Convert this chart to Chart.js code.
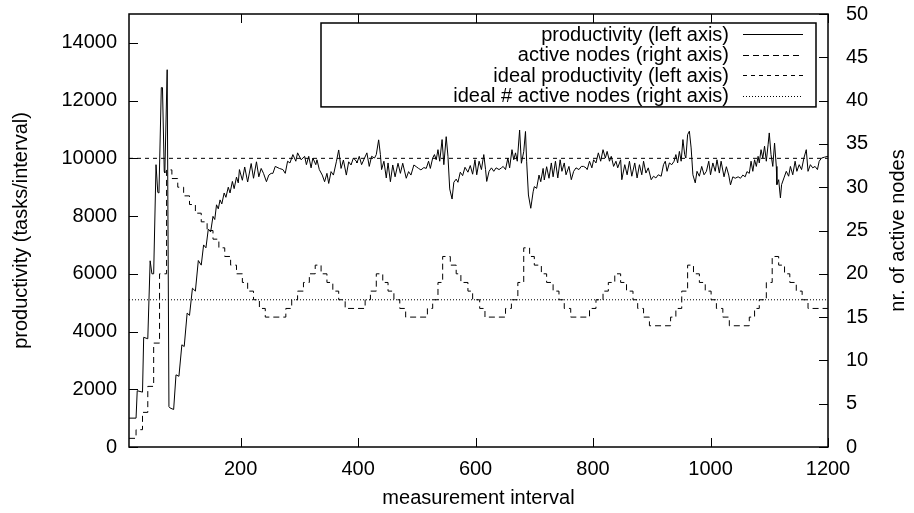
<!DOCTYPE html>
<html>
<head>
<meta charset="utf-8">
<script src="https://cdn.jsdelivr.net/npm/chart.js@4.4.1/dist/chart.umd.min.js"></script>
<style>
  html, body { margin: 0; padding: 0; background: #fff; }
  canvas { display: block; }
</style>
</head>
<body>
<canvas id="c" width="914" height="513"></canvas>
<script>
// ---------- data ----------
const intervals = [10,22,24,33,35,42,46,49,52,56,59,61,65,67,70,71,75,78,80,86,90,95,100,104,109,113,118,123,128,133,137,141,145,149,153,156,159,162,165,168,172,175,179,182,186,189,193,196,
198,203,207,212,218,222,227,231,235,239,244,248,252,255,259,266,272,276,280,284,289,294,297,303,309,312,316,320,323,328,330,334,339,343,347,350,354,358,363,367,371,375,380,384,388,392,397,
398,402,406,411,415,419,423,428,431,435,438,440,444,448,451,455,459,463,468,472,476,482,486,490,495,499,503,507,512,516,520,523,527,530,533,536,539,543,546,550,553,556,560,563,567,570,574,578,582,587,
591,595,599,602,606,610,614,617,619,623,627,631,635,640,644,647,651,655,658,662,665,668,671,675,678,682,685,687,690,694,698,700,704,708,711,715,717,721,725,729,732,736,740,744,747,751,754,759,763,767,771,776,780,784,788,
790,794,798,801,805,809,813,817,821,824,828,831,835,839,842,847,849,854,858,862,866,871,875,879,883,886,890,894,899,903,907,911,916,920,923,926,930,934,938,941,944,947,950,953,956,958,961,964,967,970,974,977,981,985,989,
993,997,1000,1004,1008,1011,1015,1018,1023,1027,1031,1034,1038,1042,1047,1051,1055,1059,1062,1066,1069,1072,1075,1078,1081,1083,1086,1089,1092,1095,1098,1100,1103,1106,1109,1112,1113,1116,1119,1121,1125,1129,1133,1136,1140,1144,1147,1151,1155,1159,1163,1166,1170,1174,1178,1182,1185,1189,1194,1200];
const productivity = [1000,1000,1950,1900,3800,3750,6450,6000,6000,9780,8820,8800,12450,12450,9550,9500,13070,1400,1350,1300,2500,2450,3540,3480,4640,4560,5500,5400,6460,6300,7000,6900,7550,7450,7990,7880,8390,8250,8560,8420,8800,8650,9000,8800,9200,8950,9350,9150,
9610,9240,9700,9180,9820,9310,9880,9360,9650,9480,9190,9420,9480,9480,9720,9650,9610,9480,9900,9840,10130,9900,10190,9950,10070,9780,10070,9670,10010,9780,9950,9610,9420,9190,9480,9130,9540,9420,9880,10290,9650,9940,9420,9880,9770,10010,9900,
9840,10070,9780,10010,10190,9720,10070,10010,10130,10640,10130,9610,9900,9320,9840,9190,9770,9360,9830,9480,9830,9310,9540,9420,9770,9710,9650,9600,9680,9650,9900,9650,10010,10130,9950,10300,9900,10650,9780,10750,10070,8940,8590,9170,9280,9170,9520,9400,9690,9520,
9750,9450,9950,9430,9900,9610,10130,9610,9200,9550,9670,9550,9670,9610,9670,9720,9610,10010,9670,10300,9950,10190,9900,10980,9830,10230,10930,9880,8730,8270,8840,9020,8960,9420,9190,9650,9250,9710,9310,9840,9360,9900,9320,9950,9550,9840,9430,9720,9260,9550,9670,9610,9720,9720,9670,
9610,9900,9670,9950,9840,10190,9900,10300,10010,10240,9900,10070,9720,9900,9670,9950,9260,9780,9430,9900,9380,9840,9320,9780,9430,9900,9490,9670,9260,9380,9320,9430,9380,9780,9900,9550,9840,9780,9900,10130,9840,10240,9900,10650,10130,10010,10820,10940,10360,9430,9150,9550,9380,9720,9430,
9550,9900,9430,9840,9550,9950,9490,9900,9360,9710,9420,9080,9360,9310,9360,9310,9420,9360,9540,9480,9900,9550,9950,9720,10070,9840,10300,10010,10420,9900,10470,10880,10130,9720,10530,9720,9090,9260,8630,9090,9320,9550,9380,9720,9430,9900,9550,9780,9610,10010,10300,9550,9780,9670,9720,9610,9900,10010,10040,10070];

const nodeIntervals = [10,22,33,42,52,62,74,83,93,103,113,123,133,143,153,163,173,183,193,203,212,222,232,242,277,287,297,307,317,327,337,347,357,367,378,412,421,431,442,451,461,471,481,518,527,536,544,557,567,575,587,595,607,616,651,661,672,682,692,700,712,721,732,742,751,762,794,805,817,826,837,847,857,868,876,886,896,932,941,951,961,971,981,991,1001,1010,1021,1032,1066,1075,1083,1095,1105,1116,1126,1135,1146,1156,1166,1200];
const activeNodes = [1,2,4,7,12,20,32,31,30,29,28,27,26,25,24,23,22,21,20,19,18,17,16,15,16,17,18,19,20,21,20,19,18,17,16,17,18,20,19,18,17,16,15,16,17,19,22,21,20,19,18,17,16,15,16,17,19,23,22,21,20,19,18,17,16,15,16,17,18,19,20,19,18,17,16,15,14,15,16,18,21,20,19,18,17,16,15,14,15,16,17,19,22,21,20,19,18,17,16,16];

const idealProductivity = 10000;
const idealNodes = 17;
const xRange = [10, 1200];

const xTicks = [200, 400, 600, 800, 1000, 1200];
const yTicks = [0, 2000, 4000, 6000, 8000, 10000, 12000, 14000];
const y2Ticks = [0, 5, 10, 15, 20, 25, 30, 35, 40, 45, 50];

const seriesLabels = ['productivity (left axis)', 'active nodes (right axis)', 'ideal productivity (left axis)', 'ideal # active nodes (right axis)'];

// ---------- chart ----------
const FONT = { family: '"Liberation Sans", Arial, Helvetica, sans-serif', size: 20 };
Chart.defaults.font.family = FONT.family;
Chart.defaults.font.size = FONT.size;
Chart.defaults.color = '#000';

const pairs = (xs, ys) => xs.map((x, i) => ({ x: x, y: ys[i] }));
const plain = v => String(v);
const PLOT_TOP = 14;

const frame = {
  id: 'frame',
  afterDraw(chart) {
    const { ctx, chartArea: a, scales } = chart;
    ctx.save();
    ctx.strokeStyle = '#000';
    ctx.setLineDash([]);
    // ticks (gnuplot style, inward)
    ctx.lineWidth = 1;
    const T = 9;
    ctx.beginPath();
    xTicks.forEach(v => {
      const px = Math.round(scales.x.getPixelForValue(v)) + 0.5;
      ctx.moveTo(px, a.bottom); ctx.lineTo(px, a.bottom - T);
      ctx.moveTo(px, a.top); ctx.lineTo(px, a.top + T);
    });
    yTicks.forEach(v => {
      const py = Math.round(scales.y.getPixelForValue(v)) + 0.5;
      ctx.moveTo(a.left, py); ctx.lineTo(a.left + T, py);
    });
    y2Ticks.forEach(v => {
      const py = Math.round(scales.y2.getPixelForValue(v)) + 0.5;
      ctx.moveTo(a.right, py); ctx.lineTo(a.right - T, py);
    });
    ctx.stroke();
    // border
    ctx.lineWidth = 1.5;
    ctx.strokeRect(a.left, a.top, a.right - a.left, a.bottom - a.top);

    // right axis title (reads bottom to top)
    ctx.save();
    ctx.font = FONT.size + 'px ' + FONT.family;
    ctx.fillStyle = '#000';
    ctx.textAlign = 'center';
    ctx.textBaseline = 'middle';
    ctx.translate(a.right + 70, (a.top + a.bottom) / 2);
    ctx.rotate(-Math.PI / 2);
    ctx.fillText('nr. of active nodes', 0, 0);
    ctx.restore();

    // legend box (gnuplot style)
    const bx0 = a.right - 12, bx1 = a.left + 192, by0 = a.top + 9, rowH = 20.6;
    const rows = chart.data.datasets.length;
    ctx.lineWidth = 1.5;
    ctx.strokeRect(bx1, by0, bx0 - bx1, rows * rowH + 1.5);
    ctx.font = FONT.size + 'px ' + FONT.family;
    ctx.fillStyle = '#000';
    ctx.textAlign = 'right';
    ctx.textBaseline = 'middle';
    chart.data.datasets.forEach((ds, i) => {
      const cy = by0 + 11 + i * rowH;
      ctx.fillText(ds.label, a.right - 99, cy + 1);
      ctx.beginPath();
      ctx.lineWidth = 1;
      ctx.setLineDash(ds.borderDash || []);
      ctx.moveTo(a.right - 85, Math.round(cy) + 0.5);
      ctx.lineTo(a.right - 25, Math.round(cy) + 0.5);
      ctx.stroke();
      ctx.setLineDash([]);
    });
    ctx.restore();
  }
};

const vFit = w => s => { s.width = w; s.paddingTop = PLOT_TOP; s.paddingBottom = 0; };

new Chart(document.getElementById('c'), {
  type: 'line',
  data: {
    datasets: [
      { label: seriesLabels[0], data: pairs(intervals, productivity), yAxisID: 'y',
        borderColor: '#000', borderWidth: 1, pointRadius: 0, tension: 0, borderDash: [] },
      { label: seriesLabels[1], data: pairs(nodeIntervals, activeNodes), yAxisID: 'y2', stepped: 'before',
        borderColor: '#000', borderWidth: 1, pointRadius: 0, borderDash: [6, 4] },
      { label: seriesLabels[2], data: pairs(xRange, [idealProductivity, idealProductivity]), yAxisID: 'y',
        borderColor: '#000', borderWidth: 1, pointRadius: 0, borderDash: [4, 4] },
      { label: seriesLabels[3], data: pairs(xRange, [idealNodes, idealNodes]), yAxisID: 'y2',
        borderColor: '#000', borderWidth: 1, pointRadius: 0, borderDash: [1, 2] }
    ]
  },
  options: {
    responsive: false,
    devicePixelRatio: 1,
    animation: false,
    events: [],
    layout: { padding: 0 },
    plugins: { legend: { display: false }, tooltip: { enabled: false } },
    scales: {
      x: {
        type: 'linear', min: xRange[0], max: xRange[1],
        grid: { display: false, drawTicks: false }, border: { display: false },
        afterBuildTicks: s => { s.ticks = xTicks.map(v => ({ value: v })); },
        ticks: { padding: 10, maxRotation: 0, autoSkip: false, color: '#000', callback: plain },
        title: { display: true, text: 'measurement interval', color: '#000', padding: { top: 3, bottom: 3 } },
        afterFit: s => { s.height = 66; s.paddingLeft = 0; s.paddingRight = 0; }
      },
      y: {
        type: 'linear', position: 'left', min: 0, max: 15000,
        grid: { display: false, drawTicks: false }, border: { display: false },
        afterBuildTicks: s => { s.ticks = yTicks.map(v => ({ value: v })); },
        ticks: { padding: 12, color: '#000', callback: plain },
        title: { display: true, text: 'productivity (tasks/interval)', color: '#000', padding: { top: 9.5, bottom: 0 } },
        afterFit: vFit(129)
      },
      y2: {
        type: 'linear', position: 'right', min: 0, max: 50,
        grid: { display: false, drawTicks: false }, border: { display: false },
        afterBuildTicks: s => { s.ticks = y2Ticks.map(v => ({ value: v })); },
        ticks: { padding: 18, color: '#000', callback: plain },
        afterFit: vFit(86)
      }
    }
  },
  plugins: [frame]
});
</script>
</body>
</html>
